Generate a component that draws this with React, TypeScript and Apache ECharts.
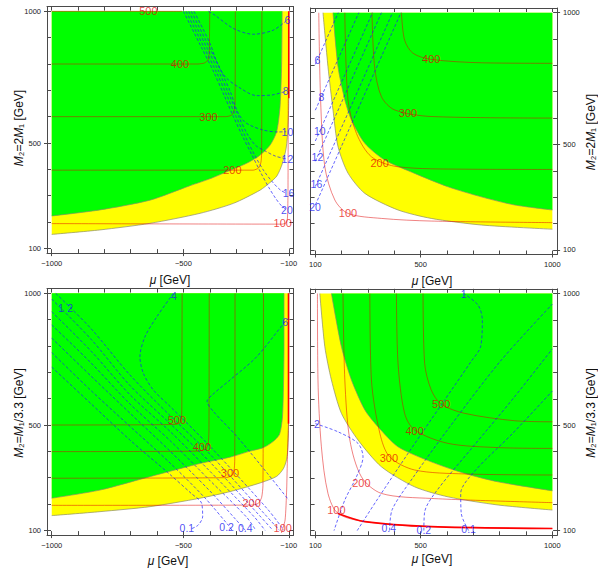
import React, { useEffect, useRef } from "react";
import * as echarts from "echarts";

type Pt = [number, number];
type Lab = [number, number, string];

const FONT = '"Liberation Sans", Arial, sans-serif';

// ---------- ticks ----------
const NEG_TICKS = [-1000, -900, -800, -700, -600, -500, -400, -300, -200, -100];
const NEG_LABELS = [-1000, -500, -100];
const POS_TICKS = [100, 200, 300, 400, 500, 600, 700, 800, 900, 1000];
const POS_LABELS = [100, 500, 1000];

// ---------- panel 1 (mu<0, M2=2M1) ----------
const p1GreenEdge: Pt[] = [[-1000, 223], [-817, 246], [-627, 283], [-475, 338], [-400, 364], [-335, 391], [-260, 423], [-209, 454], [-171, 492], [-146, 543], [-133, 640], [-127, 800], [-125, 1000]];
const p1YellowEdge: Pt[] = [[-1000, 153], [-817, 170], [-627, 195], [-437, 233], [-310, 271], [-209, 321], [-171, 350], [-145, 375], [-125, 420], [-110, 480], [-103, 560], [-100, 660], [-100, 1000]];
const p1R500: Pt[] = [[-1000, 1000], [-505, 1000]];
const p1R400: Pt[] = [[-1000, 800], [-445, 800], [-420, 804], [-407, 815], [-402, 840], [-401, 900], [-400, 1000]];
const p1R300: Pt[] = [[-1000, 600], [-340, 600], [-318, 605], [-308, 620], [-304, 650], [-303, 1000]];
const p1R200: Pt[] = [[-1000, 397], [-235, 397], [-215, 405], [-206, 425], [-203, 460], [-202, 1000]];
const p1R100: Pt[] = [[-1000, 194], [-125, 192], [-110, 197], [-105, 215], [-103, 300], [-102, 670]];
const p1RThick: Pt[] = [[-100, 670], [-100, 1000]];
const p1RedLabels: Lab[] = [[-633, 1000, "500"], [-513, 799, "400"], [-405, 600, "300"], [-314, 397, "200"], [-123, 195, "100"]];
const p1B6: Pt[] = [[-405, 1000], [-380, 985], [-310, 935], [-235, 913], [-160, 928], [-112, 962]];
const p1B8: Pt[] = [[-460, 1000], [-400, 880], [-370, 800], [-340, 750], [-290, 712], [-222, 680], [-160, 683], [-110, 697]];
const p1B10: Pt[] = [[-470, 1000], [-400, 860], [-360, 780], [-320, 690], [-295, 620], [-265, 578], [-200, 550], [-140, 542], [-110, 543]];
const p1B12: Pt[] = [[-480, 1000], [-410, 860], [-365, 770], [-325, 680], [-290, 600], [-255, 530], [-225, 490], [-190, 470], [-150, 450], [-110, 440]];
const p1B16: Pt[] = [[-490, 1000], [-420, 860], [-375, 770], [-335, 680], [-300, 600], [-265, 525], [-230, 455], [-195, 395], [-160, 350], [-130, 320], [-108, 309]];
const p1B20: Pt[] = [[-500, 1000], [-430, 860], [-385, 770], [-345, 680], [-310, 600], [-275, 525], [-240, 455], [-205, 385], [-175, 330], [-150, 290], [-128, 262], [-110, 248]];
const p1BlueLabels: Lab[] = [[-105, 967, "6"], [-112, 697, "8"], [-105, 543, "10"], [-105, 440, "12"], [-101, 309, "16"], [-107, 246, "20"]];

// ---------- panel 2 (mu>0, M2=2M1) ----------
const p2GreenEdge: Pt[] = [[167, 1000], [186, 795], [212, 669], [237, 593], [288, 504], [363, 441], [477, 390], [604, 339], [730, 301], [857, 270], [1000, 251]];
const p2YellowEdge: Pt[] = [[129, 1000], [148, 795], [167, 631], [186, 492], [224, 391], [288, 314], [414, 251], [540, 219], [730, 194], [1000, 178]];
const p2R100: Pt[] = [[113, 1000], [120, 669], [136, 415], [174, 289], [224, 238], [351, 219], [540, 209], [1000, 203]];
const p2R200: Pt[] = [[212, 1000], [224, 669], [256, 542], [313, 453], [414, 415], [667, 406], [1000, 405]];
const p2R300: Pt[] = [[315, 1000], [325, 795], [351, 681], [401, 631], [540, 606], [1000, 600]];
const p2R400: Pt[] = [[427, 1000], [439, 896], [471, 846], [540, 823], [730, 810], [1000, 808]];
const p2RedLabels: Lab[] = [[224, 238, "100"], [344, 428, "200"], [452, 619, "300"], [540, 825, "400"]];
const p2B6: Pt[] = [[100, 804], [187, 1000]];
const p2B8: Pt[] = [[100, 630], [265, 1000]];
const p2B10: Pt[] = [[100, 513], [317, 1000]];
const p2B12: Pt[] = [[100, 436], [351, 1000]];
const p2B16: Pt[] = [[100, 340], [393, 1000]];
const p2B20: Pt[] = [[100, 270], [425, 1000]];
const p2BlueLabels: Lab[] = [[108, 822, "6"], [123, 681, "8"], [117, 551, "10"], [108, 454, "12"], [104, 349, "16"], [99, 263, "20"]];

// ---------- panel 3 (mu<0, M2=M1/3.3) ----------
const p3GreenEdge: Pt[] = [[-1000, 222], [-817, 253], [-627, 304], [-437, 354], [-323, 378], [-250, 400], [-197, 414], [-160, 437], [-135, 465], [-124, 530], [-120, 650], [-118, 800], [-118, 1000]];
const p3YellowEdge: Pt[] = [[-1000, 156], [-817, 171], [-627, 190], [-437, 222], [-320, 248], [-209, 280], [-146, 305], [-120, 335], [-108, 370], [-103, 420], [-101, 480], [-100, 1000]];
const p3R500: Pt[] = [[-1000, 500], [-530, 502], [-512, 510], [-507, 530], [-506, 580], [-505, 1000]];
const p3R400: Pt[] = [[-1000, 399], [-440, 401], [-416, 409], [-406, 428], [-403, 480], [-402, 1000]];
const p3R300: Pt[] = [[-1000, 298], [-340, 300], [-318, 307], [-308, 325], [-305, 370], [-304, 1000]];
const p3R200: Pt[] = [[-1000, 195], [-240, 196], [-215, 203], [-203, 225], [-198, 270], [-196, 1000]];
const p3R100: Pt[] = [[-128, 90], [-114, 139], [-108, 253], [-105, 380], [-102, 480], [-101, 505]];
const p3RThick: Pt[] = [[-101, 505], [-101, 1000]];
const p3RedLabels: Lab[] = [[-525, 519, "500"], [-430, 418, "400"], [-323, 317, "300"], [-241, 203, "200"], [-123, 108, "100"]];
const p3B01: Pt[] = [[-1000, 720], [-850, 580], [-703, 443], [-560, 320], [-470, 240], [-431, 203], [-427, 152], [-444, 120], [-470, 106]];
const p3B02: Pt[] = [[-1000, 775], [-850, 630], [-703, 495], [-550, 355], [-420, 225], [-330, 120], [-315, 100]];
const p3B04: Pt[] = [[-1000, 830], [-850, 685], [-703, 545], [-550, 400], [-400, 250], [-300, 140], [-265, 100]];
const p3B06: Pt[] = [[-1000, 880], [-850, 735], [-703, 580], [-550, 440], [-400, 290], [-260, 150], [-225, 100]];
const p3B08: Pt[] = [[-1000, 930], [-850, 780], [-703, 615], [-550, 475], [-400, 325], [-230, 150], [-190, 100]];
const p3B1: Pt[] = [[-1000, 978], [-850, 825], [-703, 650], [-550, 505], [-400, 360], [-210, 155], [-160, 100]];
const p3B2: Pt[] = [[-985, 1000], [-850, 865], [-703, 690], [-550, 535], [-400, 390], [-190, 160], [-135, 100]];
const p3B4: Pt[] = [[-538, 1000], [-601, 911], [-646, 835], [-665, 759], [-652, 696], [-614, 633], [-550, 570], [-400, 420], [-180, 180], [-118, 100]];
const p3B6: Pt[] = [[-100, 905], [-114, 892], [-222, 759], [-323, 671], [-390, 615], [-410, 590], [-385, 550], [-300, 460], [-180, 315], [-100, 215]];
const p3BlueLabels: Lab[] = [[-965, 943, "1"], [-930, 943, "2"], [-536, 990, "4"], [-114, 892, "6"], [-487, 108, "0.1"], [-336, 114, "0.2"], [-265, 108, "0.4"]];

// ---------- panel 4 (mu>0, M2=M1/3.3) ----------
const p4GreenEdge: Pt[] = [[161, 1000], [199, 798], [237, 672], [288, 558], [338, 494], [414, 418], [540, 361], [667, 317], [794, 285], [1000, 251]];
const p4YellowEdge: Pt[] = [[117, 1000], [136, 798], [161, 672], [199, 545], [262, 444], [351, 342], [477, 266], [604, 228], [794, 197], [1000, 178]];
const p4R100: Pt[] = [[108, 1000], [110, 672], [123, 418], [148, 241], [186, 165], [288, 134], [540, 115], [1000, 108]];
const p4RThick: Pt[] = [[186, 165], [288, 134], [540, 115], [1000, 108]];
const p4R200: Pt[] = [[205, 1000], [212, 672], [231, 444], [275, 304], [351, 241], [540, 222], [1000, 206]];
const p4R300: Pt[] = [[307, 1000], [313, 672], [345, 469], [382, 380], [477, 330], [667, 315], [1000, 311]];
const p4R400: Pt[] = [[408, 1000], [414, 735], [439, 545], [477, 482], [604, 431], [794, 415], [1000, 412]];
const p4R500: Pt[] = [[509, 1000], [515, 735], [540, 634], [578, 580], [667, 545], [857, 517], [1000, 513]];
const p4RedLabels: Lab[] = [[180, 178, "100"], [275, 279, "200"], [379, 377, "300"], [477, 478, "400"], [578, 580, "500"]];
const p4B2: Pt[] = [[100, 506], [186, 475], [262, 431], [281, 380], [256, 304], [212, 216], [171, 100]];
const p4B1: Pt[] = [[259, 100], [330, 210], [450, 390], [580, 580], [690, 740], [728, 800], [734, 899], [718, 956], [663, 1000]];
const p4B04: Pt[] = [[382, 100], [392, 180], [470, 300], [600, 480], [800, 740], [1000, 960]];
const p4B02: Pt[] = [[512, 100], [515, 170], [560, 250], [700, 420], [850, 600], [1000, 790]];
const p4B01: Pt[] = [[682, 100], [654, 165], [652, 241], [700, 320], [850, 470], [1000, 630]];
const p4BlueLabels: Lab[] = [[106, 504, "2"], [663, 998, "1"], [379, 110, "0.4"], [512, 104, "0.2"], [682, 107, "0.1"]];

// ---------- styles ----------
const GREEN = "#00ff00";
const YELLOW = "#ffff00";
const EDGE = "#8c8c6a";
const RED = "rgba(225,0,0,0.55)";
const RED_THICK = "#ff0000";
const BLUE = "rgba(25,25,255,0.75)";
const BLUE_TXT = "#1c1cf0";
const RED_TXT = "rgba(230,0,0,0.9)";
const FRAME = "#4a4a4a";

const GRIDS = [
  { left: 47, top: 6.6 },
  { left: 310.6, top: 8 },
  { left: 47, top: 288.6 },
  { left: 310.6, top: 288.8 },
];
const SIZE = 246.5;

const fmt = (v: number) => (v < 0 ? "\u2212" + Math.abs(v) : String(v));

function line(i: number, data: Pt[], color: string, width: number, dashed: boolean, z: number, smooth: number | boolean = 0.3) {
  return {
    type: "line",
    xAxisIndex: 3 * i,
    yAxisIndex: 3 * i,
    data,
    symbol: "none",
    showSymbol: false,
    smooth,
    silent: true,
    z,
    lineStyle: { color, width, type: dashed ? [3, 2] : "solid" },
  };
}

function area(i: number, data: Pt[], fill: string, z: number) {
  return {
    ...line(i, data, EDGE, 0.7, false, z, 0.25),
    areaStyle: { color: fill, opacity: 1, origin: 1000 },
  };
}

function labels(i: number, items: Lab[], color: string, size: number) {
  return {
    type: "scatter",
    xAxisIndex: 3 * i,
    yAxisIndex: 3 * i,
    data: items.map((d) => ({ value: [d[0], d[1]], name: d[2] })),
    symbol: "circle",
    symbolSize: 1,
    itemStyle: { color: "rgba(0,0,0,0)" },
    silent: true,
    clip: false,
    z: 10,
    label: { show: true, position: "inside", formatter: "{b}", color, fontSize: size, fontFamily: FONT },
  };
}

function buildAxes() {
  const xAxis: any[] = [];
  const yAxis: any[] = [];
  for (let i = 0; i < 4; i++) {
    const neg = i === 0 || i === 2;
    const right = i === 1 || i === 3;
    const xr = neg ? [-1018, -82] : [82, 1018];
    const xt = neg ? NEG_TICKS : POS_TICKS;
    const xl = neg ? NEG_LABELS : POS_LABELS;
    const xb = { type: "value", gridIndex: i, min: xr[0], max: xr[1], splitLine: { show: false } };
    const yb = { type: "value", gridIndex: i, min: 82, max: 1018, splitLine: { show: false } };
    const lineOn = { show: true, onZero: false, lineStyle: { color: FRAME, width: 1 } };
    const lineOff = { show: false, onZero: false };
    const lab = (vals: number[], margin: number) => ({ show: true, customValues: vals, formatter: fmt, fontSize: 7.5, color: "#222", margin, fontFamily: FONT });
    xAxis.push(
      { ...xb, position: "bottom", axisLine: lineOn, axisTick: { show: true, inside: true, length: 4, customValues: xt, lineStyle: { color: FRAME } }, axisLabel: lab(xl, 6) },
      { ...xb, position: "top", axisLine: lineOn, axisTick: { show: true, inside: true, length: 4, customValues: xt, lineStyle: { color: FRAME } }, axisLabel: { show: false } },
      { ...xb, position: "bottom", axisLine: lineOff, axisTick: { show: true, inside: false, length: 3, customValues: xl, lineStyle: { color: FRAME } }, axisLabel: { show: false } }
    );
    yAxis.push(
      { ...yb, position: right ? "right" : "left", axisLine: lineOn, axisTick: { show: true, inside: true, length: 4, customValues: POS_TICKS, lineStyle: { color: FRAME } }, axisLabel: lab(POS_LABELS, 6) },
      { ...yb, position: right ? "left" : "right", axisLine: lineOn, axisTick: { show: true, inside: true, length: 4, customValues: POS_TICKS, lineStyle: { color: FRAME } }, axisLabel: { show: false } },
      { ...yb, position: right ? "right" : "left", axisLine: lineOff, axisTick: { show: true, inside: false, length: 3, customValues: POS_LABELS, lineStyle: { color: FRAME } }, axisLabel: { show: false } }
    );
  }
  return { xAxis, yAxis };
}

function buildSeries() {
  const s: any[] = [];
  // panel 1
  s.push(area(0, p1YellowEdge, YELLOW, 1), area(0, p1GreenEdge, GREEN, 2));
  [p1R500, p1R400, p1R300, p1R200, p1R100].forEach((d) => s.push(line(0, d, RED, 0.9, false, 3, 0.2)));
  s.push(line(0, p1RThick, RED_THICK, 1.6, false, 3, false));
  [p1B6, p1B8, p1B10, p1B12, p1B16, p1B20].forEach((d) => s.push(line(0, d, BLUE, 0.9, true, 4, 0.3)));
  s.push(labels(0, p1RedLabels, RED_TXT, 11), labels(0, p1BlueLabels, BLUE_TXT, 10.5));
  // panel 2
  s.push(area(1, p2YellowEdge, YELLOW, 1), area(1, p2GreenEdge, GREEN, 2));
  [p2R100, p2R200, p2R300, p2R400].forEach((d) => s.push(line(1, d, RED, 0.9, false, 3, 0.3)));
  [p2B6, p2B8, p2B10, p2B12, p2B16, p2B20].forEach((d) => s.push(line(1, d, BLUE, 0.9, true, 4, false)));
  s.push(labels(1, p2RedLabels, RED_TXT, 11), labels(1, p2BlueLabels, BLUE_TXT, 10.5));
  // panel 3
  s.push(area(2, p3YellowEdge, YELLOW, 1), area(2, p3GreenEdge, GREEN, 2));
  [p3R500, p3R400, p3R300, p3R200, p3R100].forEach((d) => s.push(line(2, d, RED, 0.9, false, 3, 0.2)));
  s.push(line(2, p3RThick, RED_THICK, 1.6, false, 3, false));
  [p3B01, p3B02, p3B04, p3B06, p3B08, p3B1, p3B2, p3B4, p3B6].forEach((d) => s.push(line(2, d, BLUE, 0.9, true, 4, 0.3)));
  s.push(labels(2, p3RedLabels, RED_TXT, 11), labels(2, p3BlueLabels, BLUE_TXT, 10.5));
  // panel 4
  s.push(area(3, p4YellowEdge, YELLOW, 1), area(3, p4GreenEdge, GREEN, 2));
  [p4R100, p4R200, p4R300, p4R400, p4R500].forEach((d) => s.push(line(3, d, RED, 0.9, false, 3, 0.3)));
  s.push(line(3, p4RThick, RED_THICK, 1.6, false, 3, 0.3));
  [p4B2, p4B1, p4B04, p4B02, p4B01].forEach((d) => s.push(line(3, d, BLUE, 0.9, true, 4, 0.3)));
  s.push(labels(3, p4RedLabels, RED_TXT, 11), labels(3, p4BlueLabels, BLUE_TXT, 10.5));
  return s;
}

function titleText(x: number, y: number, text: string, rot: number) {
  return {
    type: "text",
    x,
    y,
    rotation: rot,
    silent: true,
    style: {
      text,
      fontSize: 12,
      fontFamily: FONT,
      fill: "#111",
      align: "center",
      verticalAlign: "middle",
      rich: { i: { fontStyle: "italic", fontSize: 12, fontFamily: FONT, fill: "#111" } },
    },
  };
}

function buildOption() {
  const { xAxis, yAxis } = buildAxes();
  const MU = "{i|\u03bc} [GeV]";
  const Y1 = "{i|M}\u2082=2{i|M}\u2081 [GeV]";
  const Y2 = "{i|M}\u2082={i|M}\u2081/3.3 [GeV]";
  return {
    animation: false,
    backgroundColor: "#ffffff",
    grid: GRIDS.map((g) => ({ left: g.left, top: g.top, width: SIZE, height: SIZE, containLabel: false, outerBoundsMode: "none", show: false })),
    xAxis,
    yAxis,
    series: buildSeries(),
    graphic: [
      titleText(170, 280, MU, 0),
      titleText(432, 281, MU, 0),
      titleText(168, 561, MU, 0),
      titleText(432, 559, MU, 0),
      titleText(19, 128, Y1, Math.PI / 2),
      titleText(591, 132, Y1, Math.PI / 2),
      titleText(19, 413, Y2, Math.PI / 2),
      titleText(591, 413, Y2, Math.PI / 2),
    ],
  };
}

export default function App() {
  const ref = useRef<HTMLDivElement>(null);
  useEffect(() => {
    const chart = echarts.init(ref.current!, null, { renderer: "svg" });
    chart.setOption(buildOption() as any);
    return () => chart.dispose();
  }, []);
  return <div ref={ref} style={{ position: "fixed", left: 0, top: 0, width: 598, height: 568, background: "#fff" }} />;
}
